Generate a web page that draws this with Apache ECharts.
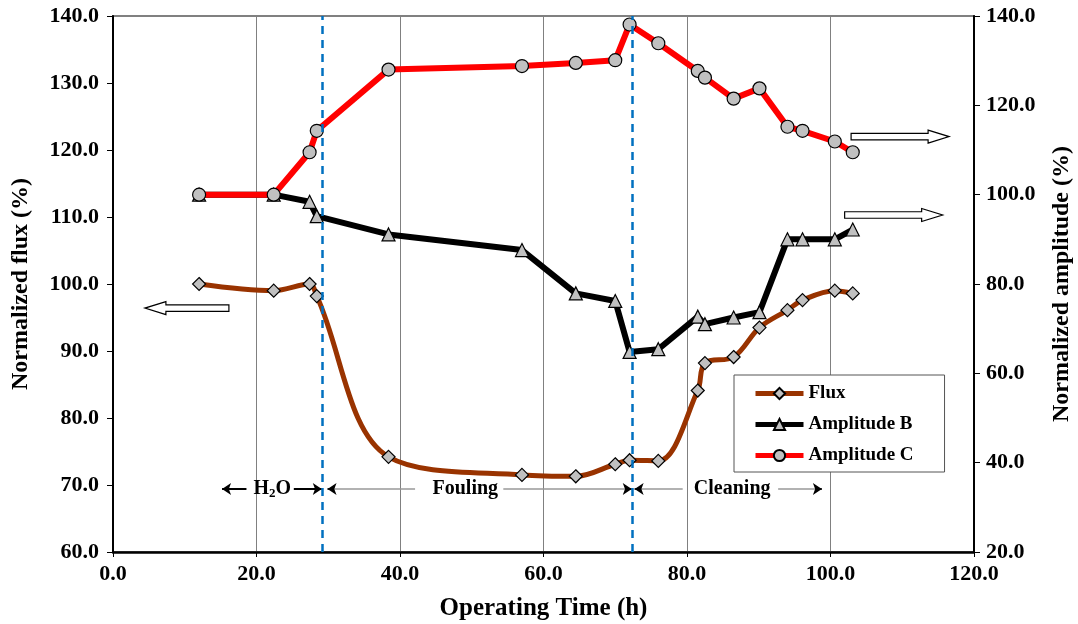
<!DOCTYPE html>
<html>
<head>
<meta charset="utf-8">
<script src="https://cdn.jsdelivr.net/npm/echarts@6/dist/echarts.min.js"></script>
<style>
html,body{margin:0;padding:0;background:#fff;}
#chart{width:1078px;height:624px;}
</style>
</head>
<body>
<div id="chart"></div>
<script>
// ---- data ----
const timeH = [12.0, 22.4, 27.4, 28.4, 38.4, 57.0, 64.5, 70.0, 72.0, 76.0, 81.5, 82.5, 86.5, 90.1, 94.0, 96.1, 100.6, 103.1];
const flux  = [100.0, 99.0, 100.0, 98.2, 74.2, 71.5, 71.3, 73.1, 73.7, 73.6, 84.1, 88.2, 89.1, 93.5, 96.1, 97.6, 99.0, 98.6];
const ampB  = [100.0, 100.0, 98.4, 95.2, 91.1, 87.6, 77.9, 76.2, 64.8, 65.4, 72.7, 71.0, 72.5, 73.7, 90.0, 90.0, 90.0, 92.2];
const ampC  = [100.0, 100.0, 109.5, 114.3, 128.0, 128.8, 129.5, 130.1, 138.1, 133.9, 127.7, 126.2, 121.5, 123.8, 115.2, 114.3, 111.9, 109.5];
const xTicks = [0, 20, 40, 60, 80, 100, 120];
const phaseBounds = [29.2, 72.4];           // blue dashed phase boundaries (h)
const phaseLabels = ['H{s|2}O', 'Fouling', 'Cleaning'];
const phaseLabelX = [22.2, 49.1, 86.3];
const annY = 69.4;                          // annotation row (flux units)
// block arrows pointing to the axis each curve belongs to: [x, y(flux units), direction]
const axisArrows = [[10.3, 96.4, -1], [109.7, 122.0, 1], [108.8, 110.3, 1]];

const zip = (xs, ys) => xs.map((x, i) => [x, ys[i]]);
const FONT = '"Liberation Serif", "Times New Roman", serif';
const bold = (size) => ({ fontFamily: FONT, fontWeight: 'bold', fontSize: size, color: '#000' });

function seg(x1, x2, symStart, symEnd, color, width) {
  return [
    { coord: [x1, annY], symbol: symStart, symbolSize: [9, 9], lineStyle: { color: color, width: width, type: 'solid' } },
    { coord: [x2, annY], symbol: symEnd, symbolSize: [9, 9] }
  ];
}

const chart = echarts.init(document.getElementById('chart'), null, { renderer: 'canvas' });
chart.setOption({
  animation: false,
  backgroundColor: '#fff',
  grid: { left: 113, right: 104, top: 16, bottom: 72, containLabel: false, outerBoundsMode: 'none',
          show: true, borderColor: '#808080', borderWidth: 2, backgroundColor: 'transparent' },
  legend: {
    orient: 'vertical', left: 734, top: 375,
    padding: [9, 31, 7, 19], itemGap: 12, itemWidth: 48, itemHeight: 14, itemTextGap: 5,
    backgroundColor: '#fff', borderColor: '#555', borderWidth: 1, borderRadius: 0,
    textStyle: bold(19),
    lineStyle: { width: 5 },
    data: ['Flux', 'Amplitude B', 'Amplitude C']
  },
  xAxis: {
    type: 'value', min: xTicks[0], max: xTicks[xTicks.length - 1], interval: 20,
    name: 'Operating Time (h)', nameLocation: 'middle', nameGap: 44, nameTextStyle: bold(25),
    axisLine: { show: true, onZero: false, lineStyle: { color: '#000', width: 2.5 } },
    axisTick: { show: true, length: 5, lineStyle: { color: '#000' } },
    axisLabel: { ...bold(22), margin: 11, formatter: v => v.toFixed(1) },
    splitLine: { show: true, lineStyle: { color: '#808080', width: 1 } }
  },
  yAxis: [
    {
      type: 'value', min: 60, max: 140, interval: 10, position: 'left',
      name: 'Normalized flux (%)', nameLocation: 'middle', nameGap: 80, nameRotate: 90, nameTextStyle: bold(24),
      axisLine: { show: true, onZero: false, lineStyle: { color: '#000', width: 2 } },
      axisTick: { show: true, length: 6, lineStyle: { color: '#000' } },
      axisLabel: { ...bold(22), margin: 14, formatter: v => v.toFixed(1) },
      splitLine: { show: false }
    },
    {
      type: 'value', min: 20, max: 140, interval: 20, position: 'right',
      name: 'Normalized amplitude (%)', nameLocation: 'middle', nameGap: 76, nameRotate: 90, nameTextStyle: bold(24),
      axisLine: { show: true, onZero: false, lineStyle: { color: '#000', width: 2 } },
      axisTick: { show: true, length: 6, lineStyle: { color: '#000' } },
      axisLabel: { ...bold(22), margin: 12, formatter: v => v.toFixed(1) },
      splitLine: { show: false }
    }
  ],
  series: [
    {
      name: 'Flux', type: 'line', yAxisIndex: 0, data: zip(timeH, flux), smooth: 0.35,
      symbol: 'diamond', symbolSize: 13,
      lineStyle: { color: '#993300', width: 5 },
      itemStyle: { color: '#C0C0C0', borderColor: '#000', borderWidth: 1.2 },
      z: 2,
      markLine: {
        silent: true, animation: false, symbol: 'none',
        label: { show: false },
        data: [
          seg(15.2, 18.6, 'arrow', 'none', '#000', 2),
          seg(25.2, 29.1, 'none', 'arrow', '#000', 2),
          seg(29.9, 42.1, 'none', 'none', '#999', 1.5),
          seg(29.9, 30.8, 'arrow', 'none', '#000', 1.5),
          seg(54.4, 72.3, 'none', 'none', '#999', 1.5),
          seg(71.4, 72.3, 'none', 'arrow', '#000', 1.5),
          seg(72.7, 79.4, 'none', 'none', '#999', 1.5),
          seg(72.7, 73.6, 'arrow', 'none', '#000', 1.5),
          seg(92.7, 98.8, 'none', 'none', '#999', 1.5),
          seg(97.9, 98.8, 'none', 'arrow', '#000', 1.5)
        ]
      },
      markPoint: {
        silent: true, animation: false,
        data: phaseLabels.map((t, i) => ({
          coord: [phaseLabelX[i], annY], symbol: 'rect', symbolSize: 1,
          itemStyle: { color: 'rgba(0,0,0,0)' },
          label: { show: true, position: 'inside', formatter: t, ...bold(20),
            rich: { s: { fontFamily: FONT, fontWeight: 'bold', fontSize: 13, color: '#000', padding: [9, 0, 0, 0] } } }
        }))
      }
    },
    {
      name: 'Amplitude B', type: 'line', yAxisIndex: 1, data: zip(timeH, ampB),
      symbol: 'triangle', symbolSize: 13,
      lineStyle: { color: '#000', width: 6 },
      itemStyle: { color: '#C0C0C0', borderColor: '#000', borderWidth: 1.2 },
      z: 3
    },
    {
      name: 'Amplitude C', type: 'line', yAxisIndex: 1, data: zip(timeH, ampC),
      symbol: 'circle', symbolSize: 13,
      lineStyle: { color: '#FF0000', width: 6 },
      itemStyle: { color: '#C0C0C0', borderColor: '#000', borderWidth: 1.2 },
      z: 4,
      markLine: {
        silent: true, animation: false, symbol: 'none', label: { show: false },
        lineStyle: { color: '#0070C0', width: 2.5, type: [8, 6] },
        data: phaseBounds.map(v => ({ xAxis: v }))
      }
    }
  ]
});

// hollow block arrows (annotation shapes) anchored at data coordinates
const H = 13, h = 6.5, head = 21;
const graphics = axisArrows.map(([x, y, dir]) => {
  const L = dir < 0 ? 84 : 98;
  const [cx, cy] = chart.convertToPixel({ xAxisIndex: 0, yAxisIndex: 0 }, [x, y]);
  const base = [[-L/2, -h/2], [L/2 - head, -h/2], [L/2 - head, -H/2], [L/2, 0], [L/2 - head, H/2], [L/2 - head, h/2], [-L/2, h/2]];
  return {
    type: 'polygon', silent: true, z: 10,
    shape: { points: base.map(([px, py]) => [cx + dir * px, cy + py]) },
    style: { fill: '#fff', stroke: '#000', lineWidth: 1.2 }
  };
});
chart.setOption({ graphic: graphics });
</script>
</body>
</html>
